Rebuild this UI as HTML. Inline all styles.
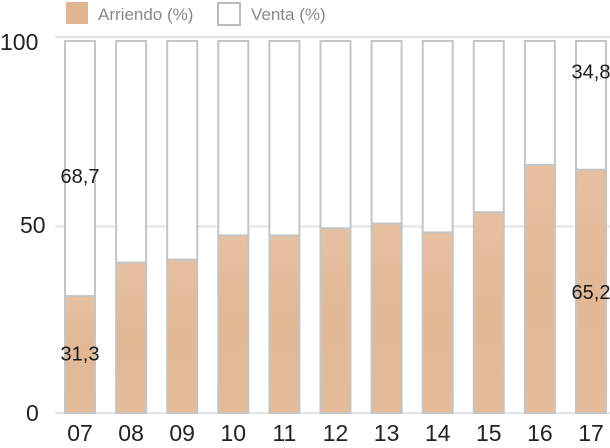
<!DOCTYPE html>
<html><head><meta charset="utf-8"><style>
body{margin:0;background:#fff;}
svg{font-family:"Liberation Sans",sans-serif;}
</style></head><body>
<svg width="610" height="443" id="c">
<defs>
<linearGradient id="wood" x1="0" y1="0" x2="0" y2="1">
<stop offset="0" stop-color="#e6c0a0"/><stop offset="0.5" stop-color="#e2b895"/><stop offset="1" stop-color="#e4bc9a"/>
</linearGradient>
</defs>
<g>
<rect x="66" y="2" width="22" height="22" fill="#e0b690"/>
<text x="98" y="20" font-size="17" fill="#888">Arriendo (%)</text>
<rect x="218" y="3" width="22" height="22" fill="#fff" stroke="#bbb" stroke-width="2"/>
<text x="251" y="20" font-size="17" fill="#888">Venta (%)</text>
</g>
<g id="grid"></g>
<g id="bars"></g>
<g id="labels"></g>
</svg>
<script>
const categories=["07","08","09","10","11","12","13","14","15","16","17"];
const arriendo=[31.3,40.3,41.1,47.6,47.6,49.5,50.8,48.4,53.8,66.5,65.2];
const yTicks=[0,50,100];
const annotations=[{i:0,v:31.3,text:"31,3",pos:16},{i:0,v:68.7,text:"68,7",pos:63.5},{i:10,v:34.8,text:"34,8",pos:91.5},{i:10,v:65.2,text:"65,2",pos:32.5}];
const ns="http://www.w3.org/2000/svg";
const y0=413,y100=40;
function y(v){return y0-(y0-y100)*v/100;}
function x(i){return 64+i*51.1;}
const bw=32;
function mk(t,a,p){const e=document.createElementNS(ns,t);for(const k in a)e.setAttribute(k,a[k]);p.appendChild(e);return e;}
const grid=document.getElementById('grid'),bars=document.getElementById('bars'),labels=document.getElementById('labels');
yTicks.forEach(t=>{
 const yy=t===100?37:y(t);
 const l=mk('line',{x1:55,x2:610,y1:yy,y2:yy,stroke:'#e4e4e4','stroke-width':2},grid);
 
 
 const tx=mk('text',{x:t===100?0:(t===50?20:26),y:(t===100?50:t===50?233:421),'font-size':23,fill:'#222'},grid);
 tx.textContent=t;
 
 
});
categories.forEach((c,i)=>{
 const xx=x(i);
 const v=mk('rect',{x:xx+1,y:y(100)+1,width:bw-2,height:y(arriendo[i])-y(100)-1,fill:'#fff',stroke:'#c4c4c4','stroke-width':2},bars);
 
 
 const a=mk('rect',{x:xx+1,y:y(arriendo[i]),width:bw-2,height:y(0)-y(arriendo[i]),fill:'url(#wood)',stroke:'#c4c4c4','stroke-width':2},bars);
 
 
 const t=mk('text',{x:xx+bw/2,y:441,'font-size':23,fill:'#222','text-anchor':'middle'},labels);
 t.textContent=c;
 
 
});
annotations.forEach(a=>{
 const t=mk('text',{x:x(a.i)+bw/2,y:y(a.pos)+7,'font-size':20,fill:'#1a1a1a','text-anchor':'middle'},labels);
 t.textContent=a.text;
 
 
});
</script>
</body></html>
